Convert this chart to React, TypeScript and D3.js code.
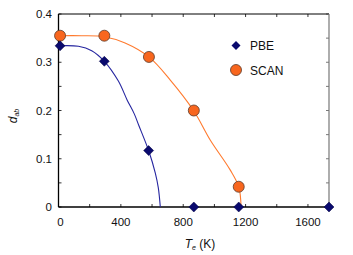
import React from "react";
import * as d3 from "d3";

const pbeT = [10, 294, 578, 868, 1156, 1735];
const pbeD = [0.334, 0.302, 0.117, 0, 0, 0];
const scanT = [10, 294, 580, 868, 1156];
const scanD = [0.355, 0.355, 0.311, 0.2, 0.042];

const pbeFitT = [0, 128, 213, 294, 384, 440, 486, 514, 578, 621, 640, 653];
const pbeFitD = [0.334, 0.333, 0.324, 0.302, 0.261, 0.222, 0.193, 0.17, 0.117, 0.07, 0.04, 0];
const scanFitT = [0, 150, 294, 427, 580, 717, 868, 973, 1101, 1156, 1171];
const scanFitD = [0.355, 0.355, 0.353, 0.34, 0.311, 0.263, 0.199, 0.139, 0.077, 0.042, 0];

const xTicks = [0, 400, 800, 1200, 1600];
const xMinor = [200, 600, 1000, 1400];
const yTicks = [0, 0.1, 0.2, 0.3, 0.4];
const yMinor = [0.05, 0.15, 0.25, 0.35];
const yLabels = ["0", "0.1", "0.2", "0.3", "0.4"];

export default function App() {
  const W = 353, H = 255;
  const L = 58.5, R = 329, T = 14, B = 207;
  const x = d3.scaleLinear().domain([0, 1735]).range([L, R]);
  const y = d3.scaleLinear().domain([0, 0.4]).range([B, T]);
  const line = d3
    .line<[number, number]>()
    .x((d) => x(d[0]))
    .y((d) => y(d[1]))
    .curve(d3.curveCatmullRom.alpha(0.5));
  const pbeFit = line(pbeFitT.map((t, i) => [t, pbeFitD[i]] as [number, number])) || "";
  const scanFit = line(scanFitT.map((t, i) => [t, scanFitD[i]] as [number, number])) || "";
  const font = "Liberation Sans, Arial, sans-serif";
  const diamond = (cx: number, cy: number, r = 5) =>
    `M${cx},${cy - r}L${cx + r},${cy}L${cx},${cy + r}L${cx - r},${cy}Z`;
  const tl = 3;
  return (
    <svg width={W} height={H} style={{ position: "absolute", left: 0, top: 0 }} fontFamily={font}>
      <rect width={W} height={H} fill="white" />
      {[...xTicks, ...xMinor].map((t) => (
        <g key={"xt" + t}>
          <line x1={x(t)} x2={x(t)} y1={B} y2={B - tl} stroke="#000" strokeWidth={0.8} />
          <line x1={x(t)} x2={x(t)} y1={T} y2={T + tl} stroke="#000" strokeWidth={0.8} />
        </g>
      ))}
      {[...yTicks, ...yMinor].map((t) => (
        <g key={"yt" + t}>
          <line x1={L} x2={L + tl} y1={y(t)} y2={y(t)} stroke="#000" strokeWidth={0.8} />
          <line x1={R} x2={R - tl} y1={y(t)} y2={y(t)} stroke="#555" strokeWidth={0.8} />
        </g>
      ))}
      <line x1={L} x2={R} y1={T} y2={T} stroke="#000" strokeWidth={1} />
      <line x1={R} x2={R} y1={T} y2={B} stroke="#777" strokeWidth={1.2} />
      <line x1={L} x2={L} y1={T} y2={B} stroke="#000" strokeWidth={1.3} />
      <line x1={L} x2={R} y1={B} y2={B} stroke="#000" strokeWidth={1.3} />
      {xTicks.map((t) => (
        <text key={"xl" + t} x={x(t) + (t === 0 ? 2 : 0)} y={226} textAnchor="middle" fontSize={11.5} fill="#111">
          {t}
        </text>
      ))}
      {yTicks.map((t, i) => (
        <text key={"yl" + t} x={52} y={y(t) + 4} textAnchor="end" fontSize={11.5} fill="#111">
          {yLabels[i]}
        </text>
      ))}
      <text x={200} y={248} textAnchor="middle" fontSize={12} fill="#111">
        <tspan fontStyle="italic">T</tspan>
        <tspan fontStyle="italic" fontSize={7} dy={2}>e</tspan>
        <tspan dy={-2}> (K)</tspan>
      </text>
      <text transform="translate(17,116) rotate(-90)" textAnchor="middle" fontSize={12} fill="#111">
        <tspan fontStyle="italic">d</tspan>
        <tspan fontStyle="italic" fontSize={7} dy={2}>ab</tspan>
      </text>
      <path d={pbeFit} fill="none" stroke="#2626a0" strokeWidth={1.1} />
      <path d={scanFit} fill="none" stroke="#ff7a2e" strokeWidth={1.1} />
      {scanT.map((t, i) => (
        <circle key={"s" + i} cx={x(t)} cy={y(scanD[i])} r={5.5} fill="#f8661e" stroke="#5a3a2a" strokeWidth={0.8} />
      ))}
      {pbeT.map((t, i) => (
        <path key={"p" + i} d={diamond(x(t), y(pbeD[i]))} fill="#0a0a6e" stroke="#050540" strokeWidth={0.5} />
      ))}
      <path d={diamond(236, 45.5, 4.5)} fill="#0a0a6e" />
      <text x={250} y={50} fontSize={12} fill="#111">PBE</text>
      <circle cx={236} cy={70} r={5.5} fill="#f8661e" stroke="#5a3a2a" strokeWidth={0.8} />
      <text x={250} y={74.5} fontSize={12} fill="#111">SCAN</text>
    </svg>
  );
}
